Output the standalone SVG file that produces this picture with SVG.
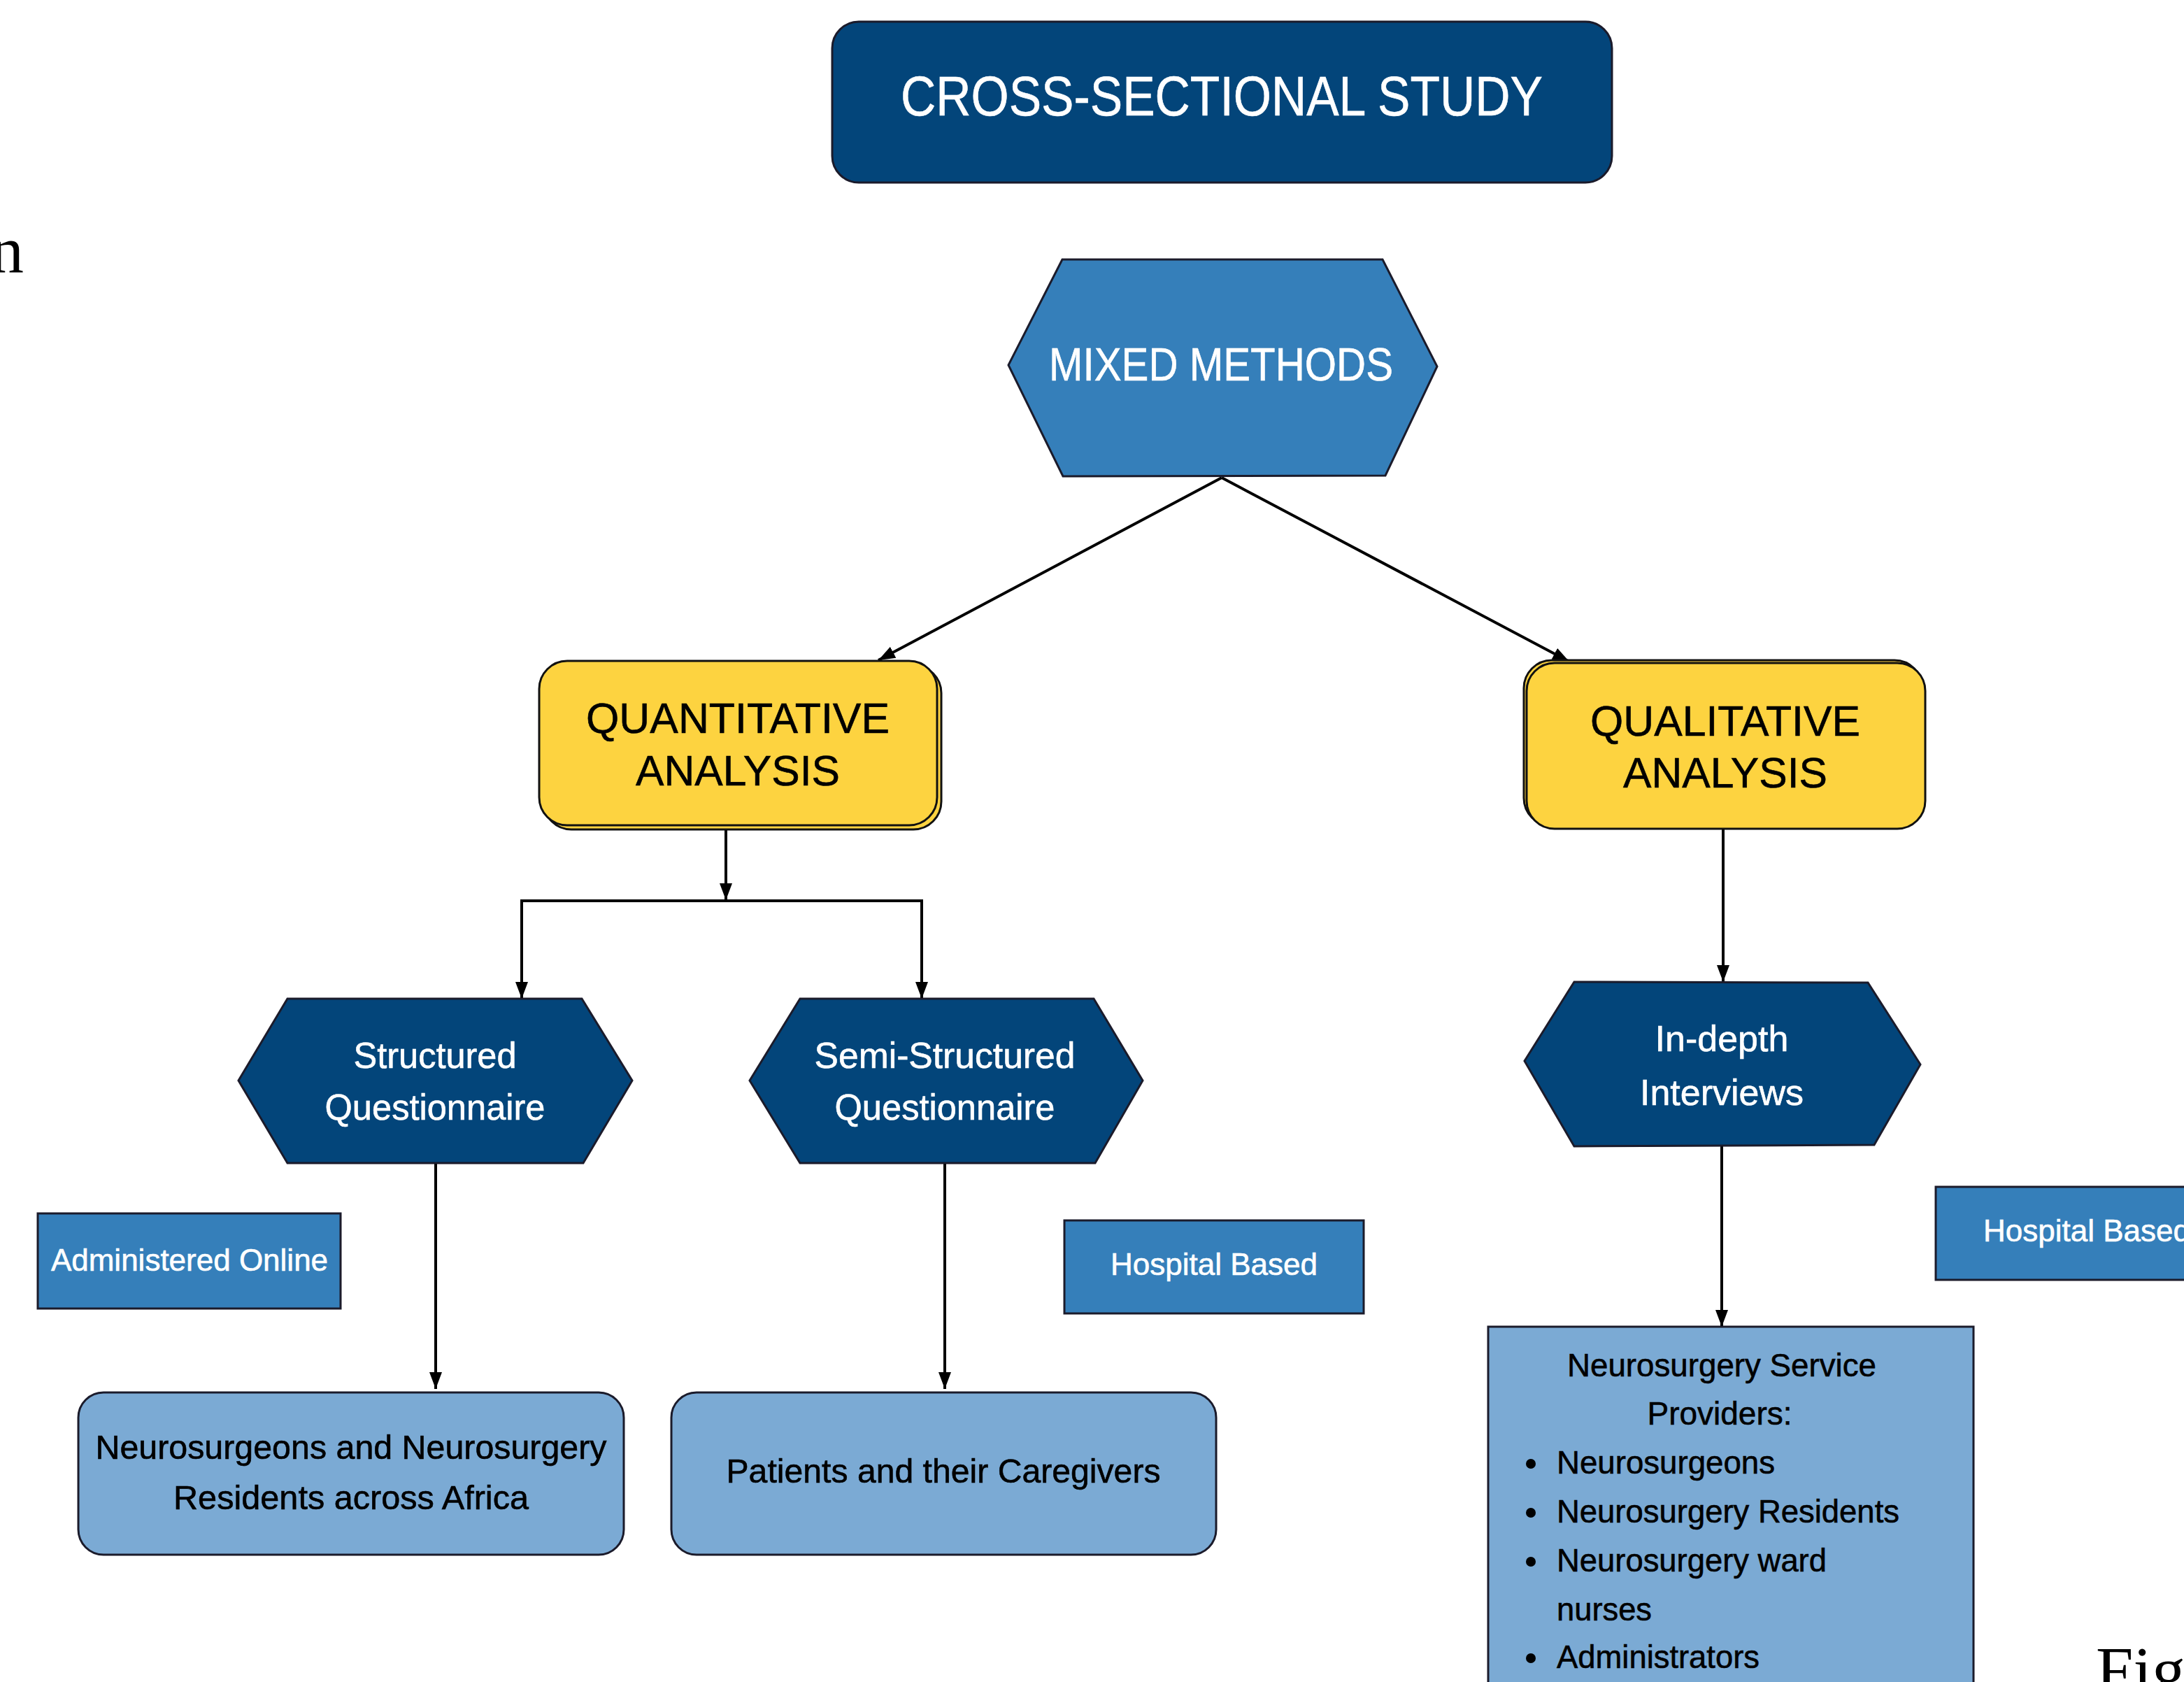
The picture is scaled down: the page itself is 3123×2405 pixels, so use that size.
<svg xmlns="http://www.w3.org/2000/svg" width="3123" height="2405" viewBox="0 0 3123 2405">
<style>
.t{font-family:"Liberation Sans",Arial,sans-serif;}
.w{fill:#ffffff;stroke:#ffffff;stroke-width:0.6;}
.k{fill:#000000;stroke:#000000;stroke-width:0.6;}
.navy{fill:#03457A;stroke:#1b1b2b;stroke-width:3;}
.mid{fill:#357FBA;stroke:#1b1b2b;stroke-width:3;}
.yel{fill:#FDD340;stroke:#111111;stroke-width:3;}
.lite{fill:#7BAAD4;stroke:#1b1b2b;stroke-width:3;}
.c{fill:none;stroke:#000000;stroke-width:4;}
.serif{font-family:"Liberation Serif","Times New Roman",serif;fill:#000000;}
</style>
<defs>
<marker id="ah" viewBox="0 0 24 18" refX="24" refY="9" markerWidth="24" markerHeight="18" markerUnits="userSpaceOnUse" orient="auto">
<path d="M0,0 L24,9 L0,18 z" fill="#000000"/>
</marker>
</defs>
<rect width="3123" height="2405" fill="#ffffff"/>

<text class="serif" x="34" y="390" font-size="96" text-anchor="end">n</text>
<text class="serif" x="2997" y="2421" font-size="96">Fig</text>

<g id="connectors">
<line class="c" x1="1747" y1="683" x2="1256" y2="944" marker-end="url(#ah)"/>
<line class="c" x1="1747" y1="683" x2="2244" y2="946" marker-end="url(#ah)"/>
<line class="c" x1="1038" y1="1185" x2="1038" y2="1287" marker-end="url(#ah)"/>
<line class="c" x1="746" y1="1288" x2="1318" y2="1288" stroke-width="5"/>
<line class="c" x1="746" y1="1286" x2="746" y2="1428" marker-end="url(#ah)"/>
<line class="c" x1="1318" y1="1286" x2="1318" y2="1428" marker-end="url(#ah)"/>
<line class="c" x1="623" y1="1663" x2="623" y2="1986" marker-end="url(#ah)"/>
<line class="c" x1="1351" y1="1663" x2="1351" y2="1986" marker-end="url(#ah)"/>
<line class="c" x1="2464" y1="1185" x2="2464" y2="1404" marker-end="url(#ah)"/>
<line class="c" x1="2462" y1="1639" x2="2462" y2="1897" marker-end="url(#ah)"/>
</g>

<g id="cross-sectional">
<rect class="navy" x="1190" y="31" width="1115" height="230" rx="38"/>
<text class="t w" x="1747" y="165" font-size="80" text-anchor="middle" textLength="918" lengthAdjust="spacingAndGlyphs">CROSS-SECTIONAL STUDY</text>
</g>

<g id="mixed-methods">
<polygon class="mid" points="1519,371 1977,371 2055,524 1981,680 1520,681 1442,522"/>
<text class="t w" x="1746" y="544" font-size="66" text-anchor="middle" textLength="492" lengthAdjust="spacingAndGlyphs">MIXED METHODS</text>
</g>

<g id="quantitative">
<rect x="777" y="951" width="569" height="235" rx="40" fill="#FDD340" stroke="#111111" stroke-width="3"/>
<rect class="yel" x="771" y="945" width="569" height="235" rx="40"/>
<text class="t k" x="1055" y="1048" font-size="62" text-anchor="middle" textLength="434" lengthAdjust="spacingAndGlyphs">QUANTITATIVE</text>
<text class="t k" x="1055" y="1123" font-size="62" text-anchor="middle" textLength="292" lengthAdjust="spacingAndGlyphs">ANALYSIS</text>
</g>

<g id="qualitative">
<rect x="2179" y="944" width="570" height="237" rx="40" fill="#FDD340" stroke="#111111" stroke-width="3"/>
<rect class="yel" x="2183" y="948" width="570" height="237" rx="40"/>
<text class="t k" x="2467" y="1052" font-size="62" text-anchor="middle" textLength="386" lengthAdjust="spacingAndGlyphs">QUALITATIVE</text>
<text class="t k" x="2467" y="1126" font-size="62" text-anchor="middle" textLength="292" lengthAdjust="spacingAndGlyphs">ANALYSIS</text>
</g>

<g id="structured">
<polygon class="navy" points="411,1428 832,1428 904,1545 834,1663 411,1663 341,1545"/>
<text class="t w" x="622" y="1527" font-size="52" text-anchor="middle" textLength="233" lengthAdjust="spacingAndGlyphs">Structured</text>
<text class="t w" x="622" y="1601" font-size="52" text-anchor="middle" textLength="315" lengthAdjust="spacingAndGlyphs">Questionnaire</text>
</g>

<g id="semi-structured">
<polygon class="navy" points="1144,1428 1564,1428 1634,1545 1566,1663 1144,1663 1072,1545"/>
<text class="t w" x="1351" y="1527" font-size="52" text-anchor="middle" textLength="373" lengthAdjust="spacingAndGlyphs">Semi-Structured</text>
<text class="t w" x="1351" y="1601" font-size="52" text-anchor="middle" textLength="315" lengthAdjust="spacingAndGlyphs">Questionnaire</text>
</g>

<g id="in-depth">
<polygon class="navy" points="2251,1404 2671,1405 2746,1522 2680,1637 2251,1639 2180,1517"/>
<text class="t w" x="2462" y="1503" font-size="52" text-anchor="middle">In-depth</text>
<text class="t w" x="2462" y="1580" font-size="52" text-anchor="middle">Interviews</text>
</g>

<g id="administered-online">
<rect class="mid" x="54" y="1735" width="433" height="136"/>
<text class="t w" x="271" y="1817" font-size="44" text-anchor="middle">Administered Online</text>
</g>

<g id="hospital-based-1">
<rect class="mid" x="1522" y="1745" width="428" height="133"/>
<text class="t w" x="1736" y="1823" font-size="44" text-anchor="middle">Hospital Based</text>
</g>

<g id="hospital-based-2">
<rect class="mid" x="2768" y="1697" width="380" height="133"/>
<text class="t w" x="2836" y="1775" font-size="44">Hospital Based</text>
</g>

<g id="neurosurgeons">
<rect class="lite" x="112" y="1991" width="780" height="232" rx="36"/>
<text class="t k" x="502" y="2086" font-size="48" text-anchor="middle" textLength="731" lengthAdjust="spacingAndGlyphs">Neurosurgeons and Neurosurgery</text>
<text class="t k" x="502" y="2158" font-size="48" text-anchor="middle" textLength="508" lengthAdjust="spacingAndGlyphs">Residents across Africa</text>
</g>

<g id="patients">
<rect class="lite" x="960" y="1991" width="779" height="232" rx="36"/>
<text class="t k" x="1349" y="2120" font-size="48" text-anchor="middle" textLength="621" lengthAdjust="spacingAndGlyphs">Patients and their Caregivers</text>
</g>

<g id="service-providers">
<rect class="lite" x="2128" y="1897" width="694" height="540"/>
<text class="t k" x="2462" y="1968" font-size="46" text-anchor="middle" textLength="442" lengthAdjust="spacingAndGlyphs">Neurosurgery Service</text>
<text class="t k" x="2459" y="2037" font-size="46" text-anchor="middle">Providers:</text>
<circle cx="2189" cy="2093" r="7" fill="#000000"/>
<text class="t k" x="2226" y="2107" font-size="46" textLength="312" lengthAdjust="spacingAndGlyphs">Neurosurgeons</text>
<circle cx="2189" cy="2163" r="7" fill="#000000"/>
<text class="t k" x="2226" y="2177" font-size="46" textLength="490" lengthAdjust="spacingAndGlyphs">Neurosurgery Residents</text>
<circle cx="2189" cy="2233" r="7" fill="#000000"/>
<text class="t k" x="2226" y="2247" font-size="46" textLength="386" lengthAdjust="spacingAndGlyphs">Neurosurgery ward</text>
<text class="t k" x="2226" y="2317" font-size="46" textLength="136" lengthAdjust="spacingAndGlyphs">nurses</text>
<circle cx="2189" cy="2371" r="7" fill="#000000"/>
<text class="t k" x="2226" y="2385" font-size="46" textLength="290" lengthAdjust="spacingAndGlyphs">Administrators</text>
</g>
</svg>
